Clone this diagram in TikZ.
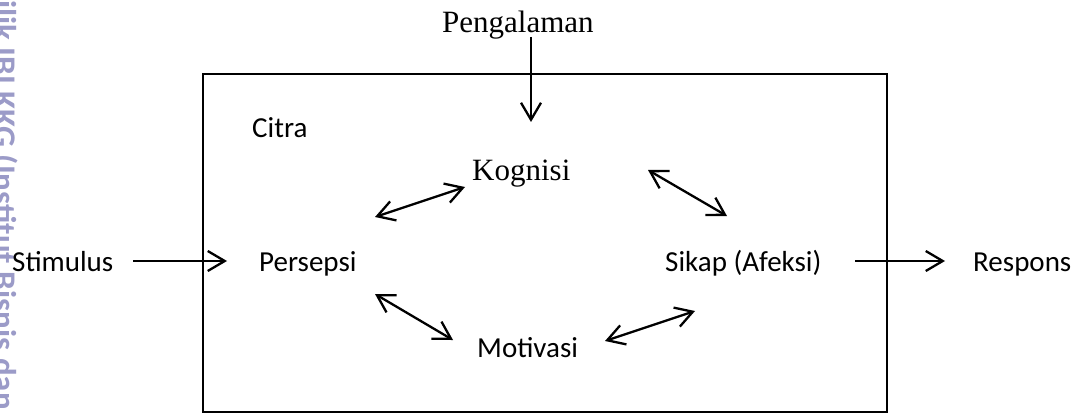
\documentclass[tikz,border=0pt]{standalone}
\usepackage{fontspec}
\setmainfont{Liberation Serif}
\newfontfamily\calfont{Carlito}
\usetikzlibrary{arrows.meta}
\definecolor{wmark}{RGB}{155,155,200}
\tikzset{
  cal/.style={font=\calfont\fontsize{29}{34}\selectfont, inner sep=0pt, anchor=base west},
  tms/.style={font=\fontsize{31}{36}\selectfont, inner sep=0pt, anchor=base west},
  arr/.style={line width=2.3pt, -{Straight Barb[length=17pt,width=20pt,line width=2.3pt]}},
  darr/.style={line width=2.3pt, {Straight Barb[length=17pt,width=20pt,line width=2.3pt]}-{Straight Barb[length=17pt,width=20pt,line width=2.3pt]}},
}
\begin{document}
\begin{tikzpicture}[x=1pt,y=-1pt]
\useasboundingbox (0,0) rectangle (1078,414);
\clip (0,0) rectangle (1078,414);
\fill[white] (0,0) rectangle (1078,414);
% watermark
\node[font=\calfont\bfseries\fontsize{33}{38}\selectfont, text=wmark, rotate=-90, anchor=base west, inner sep=0pt] (wm) at (-6,0) {ilik IBI KKG (Institut Bisnis dan Informatika};
% frame
\draw[line width=1.5pt] (203,74) rectangle (887,412);
% texts
\node[tms] (peng) at (442,33) {Pengalaman};
\node[tms] (kog) at (472,181) {Kognisi};
\node[cal] (citra) at (252,138) {Citra};
\node[cal] (stim) at (12,271) {Stimulus};
\node[cal] (pers) at (259,271) {Persepsi};
\node[cal] (sikap) at (665,271) {Sikap (Afeksi)};
\node[cal] (resp) at (973,271) {Respons};
\node[cal] (mot) at (477,357) {Motivasi};
% arrow ends
\coordinate (pengS) at (531,37);
\coordinate (pengE) at (531,122);
\coordinate (stimS) at (133,261);
\coordinate (stimE) at (227,261);
\coordinate (respS) at (855,261);
\coordinate (respE) at (945,261);
\coordinate (kl1) at (375,217);
\coordinate (kl2) at (465,187);
\coordinate (kr1) at (648,170);
\coordinate (kr2) at (727,216);
\coordinate (ml1) at (375,294);
\coordinate (ml2) at (453,340);
\coordinate (mr1) at (605,341);
\coordinate (mr2) at (695,311);
% connectors
\draw[arr] (pengS) -- (pengE);
\draw[arr] (stimS) -- (stimE);
\draw[arr] (respS) -- (respE);
\draw[darr] (kl1) -- (kl2);
\draw[darr] (kr1) -- (kr2);
\draw[darr] (ml1) -- (ml2);
\draw[darr] (mr1) -- (mr2);
\end{tikzpicture}
\end{document}
